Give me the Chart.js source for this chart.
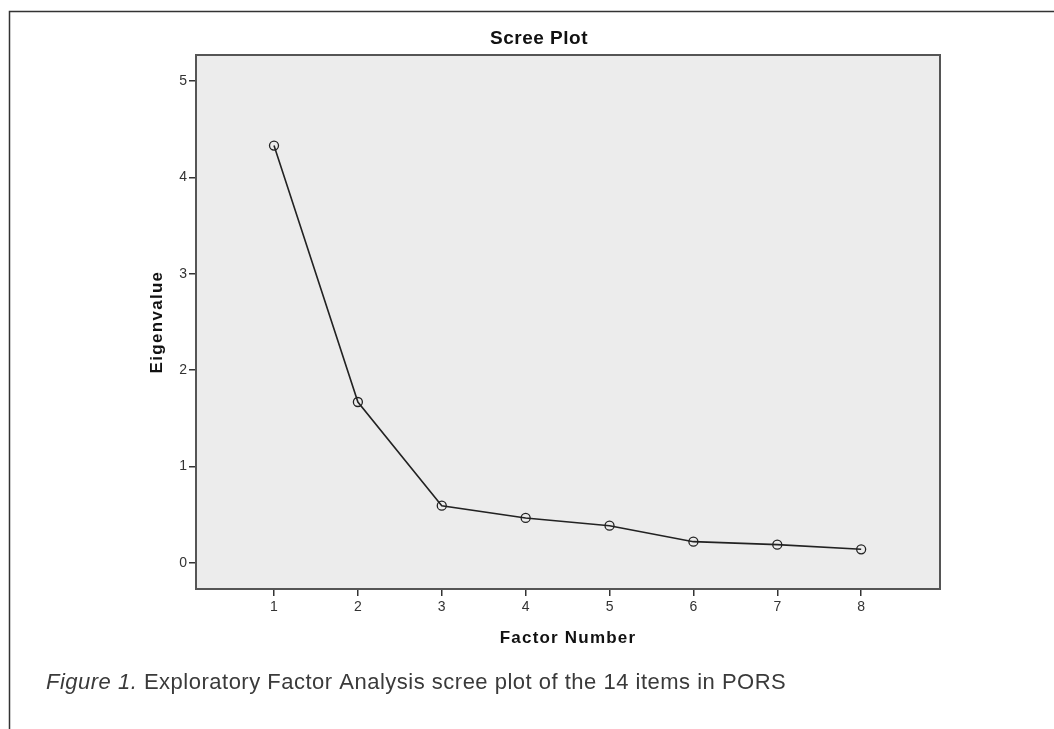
<!DOCTYPE html>
<html>
<head>
<meta charset="utf-8">
<script src="https://cdn.jsdelivr.net/npm/chart.js@4.4.1/dist/chart.umd.min.js"></script>
<style>
  html, body { margin: 0; padding: 0; background: #fff; }
  #wrap { position: relative; width: 1054px; height: 729px; }
</style>
</head>
<body>
<div id="wrap"><canvas id="c" width="1054" height="729"></canvas></div>
<script>
// ---- data ----
const factorNumbers = [1, 2, 3, 4, 5, 6, 7, 8];
const eigenvalues = [4.33, 1.67, 0.594, 0.467, 0.387, 0.221, 0.19, 0.142];
const yTickValues = [0, 1, 2, 3, 4, 5];
const chartTitle = 'Scree Plot';
const xAxisTitle = 'Factor Number';
const yAxisTitle = 'Eigenvalue';
const captionItalic = 'Figure 1.';
const captionRest = ' Exploratory Factor Analysis scree plot of the 14 items in PORS';

const points = factorNumbers.map((f, i) => ({ x: f, y: eigenvalues[i] }));

const decorPlugin = {
  id: 'decor',
  beforeDraw(chart) {
    const { ctx, chartArea: a } = chart;
    ctx.save();
    ctx.fillStyle = '#ececec';
    ctx.fillRect(a.left, a.top, a.right - a.left, a.bottom - a.top);
    ctx.restore();
  },
  afterDatasetsDraw(chart) {
    const { ctx, chartArea: a } = chart;
    ctx.save();
    // plot frame
    ctx.strokeStyle = '#555';
    ctx.lineWidth = 2;
    ctx.strokeRect(a.left, a.top, a.right - a.left, a.bottom - a.top);
    // outer figure frame (top and left)
    ctx.strokeStyle = '#333';
    ctx.lineWidth = 1.5;
    ctx.beginPath();
    ctx.moveTo(9.5, 729);
    ctx.lineTo(9.5, 11.5);
    ctx.lineTo(1054, 11.5);
    ctx.stroke();
    // title
    ctx.fillStyle = '#111';
    ctx.textAlign = 'center';
    ctx.textBaseline = 'middle';
    ctx.font = 'bold 19px "Liberation Sans", Arial, sans-serif';
    ctx.letterSpacing = '0.5px';
    ctx.fillText(chartTitle, 539, 39);
    // x axis title
    ctx.font = 'bold 17px "Liberation Sans", Arial, sans-serif';
    ctx.letterSpacing = '1.2px';
    ctx.fillText(xAxisTitle, (a.left + a.right) / 2, 638);
    // y axis title
    ctx.save();
    ctx.translate(157, 322);
    ctx.rotate(-Math.PI / 2);
    ctx.letterSpacing = '1.3px';
    ctx.fillText(yAxisTitle, 0, 0);
    ctx.restore();
    // caption
    ctx.letterSpacing = '0.5px';
    ctx.textAlign = 'left';
    ctx.textBaseline = 'alphabetic';
    ctx.fillStyle = '#3a3a3a';
    ctx.font = 'italic 22px "Liberation Sans", Arial, sans-serif';
    ctx.fillText(captionItalic, 46, 689);
    const w = ctx.measureText(captionItalic).width;
    ctx.font = '22px "Liberation Sans", Arial, sans-serif';
    ctx.fillText(captionRest, 46 + w, 689);
    ctx.restore();
  }
};

new Chart(document.getElementById('c'), {
  type: 'scatter',
  data: {
    datasets: [{
      data: points,
      showLine: true,
      borderColor: '#222',
      borderWidth: 1.6,
      pointRadius: 4.5,
      pointBorderWidth: 1.3,
      pointBorderColor: '#222',
      pointBackgroundColor: 'rgba(0,0,0,0)',
      tension: 0
    }]
  },
  options: {
    responsive: false,
    animation: false,
    devicePixelRatio: 1,
    layout: { padding: { left: 0, top: 55, right: 114, bottom: 0 } },
    plugins: { legend: { display: false }, tooltip: { enabled: false }, title: { display: false } },
    scales: {
      x: {
        type: 'linear',
        min: 0.07,
        max: 8.94,
        afterBuildTicks(scale) { scale.ticks = factorNumbers.map(v => ({ value: v })); },
        afterFit(scale) { scale.height = 140; },
        border: { display: false },
        grid: { drawOnChartArea: false, drawTicks: true, tickLength: 7, color: '#333', lineWidth: 1.5 },
        ticks: { color: '#333', font: { family: '"Liberation Sans", Arial, sans-serif', size: 14 }, padding: 3, maxRotation: 0 }
      },
      y: {
        type: 'linear',
        min: -0.27,
        max: 5.27,
        afterBuildTicks(scale) { scale.ticks = yTickValues.map(v => ({ value: v })); },
        afterFit(scale) { scale.width = 196; },
        border: { display: false },
        grid: { drawOnChartArea: false, drawTicks: true, tickLength: 7, color: '#333', lineWidth: 1.5 },
        ticks: { color: '#333', font: { family: '"Liberation Sans", Arial, sans-serif', size: 14 }, padding: 2 }
      }
    }
  },
  plugins: [decorPlugin]
});
</script>
</body>
</html>
